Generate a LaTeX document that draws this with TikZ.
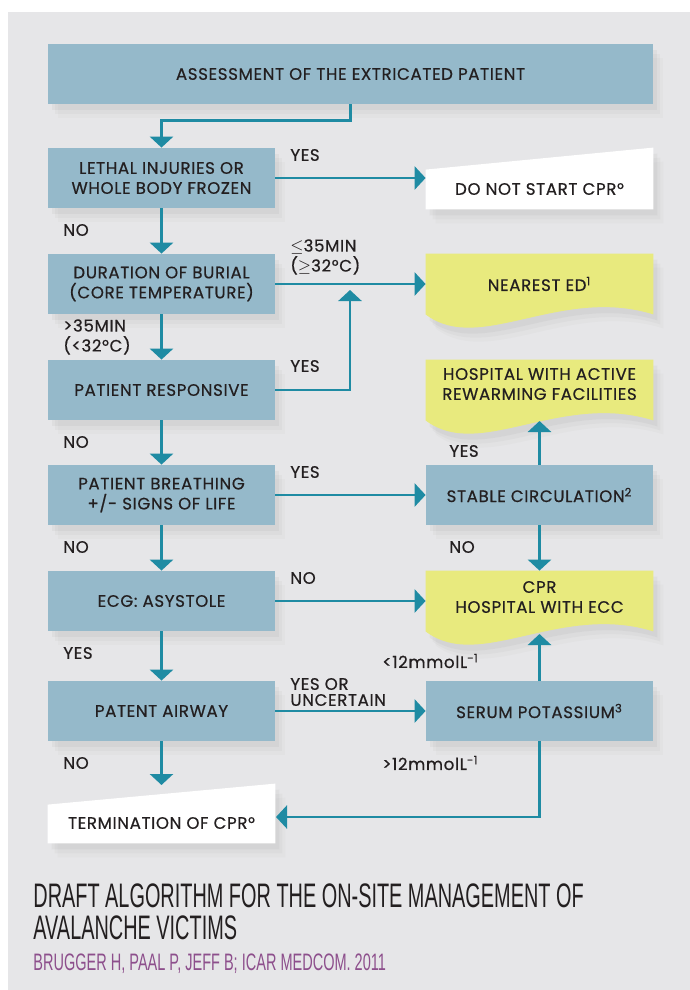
\documentclass[tikz,border=0pt]{standalone}
\usepackage{fontspec}
\setmainfont{Poppins}[FakeBold=0.6,LetterSpace=4]
\newfontfamily\titlefont[FakeStretch=0.585]{Liberation Sans}
\newfontfamily\citefont[FakeStretch=0.61]{Liberation Sans}
\usetikzlibrary{arrows.meta,calc,backgrounds,shadows}

\definecolor{panelgray}{RGB}{230,230,232}
\definecolor{boxblue}{RGB}{149,185,202}
\definecolor{docyellow}{RGB}{232,234,126}
\definecolor{flowteal}{RGB}{31,139,163}
\definecolor{inkdark}{RGB}{35,31,32}
\definecolor{citepurple}{RGB}{141,79,140}

\tikzset{
    soft shadow/.style={
        drop shadow={shadow xshift=5pt, shadow yshift=-7pt, opacity=0.04},
        drop shadow={shadow xshift=3.5pt, shadow yshift=-5pt, opacity=0.06},
        drop shadow={shadow xshift=2pt, shadow yshift=-3pt, opacity=0.08}},
    boxtext/.style={minimum width=113.5pt, minimum height=30pt, inner sep=0pt, align=center, text=inkdark, font=\fontsize{8.3}{10}\selectfont},
    stepbox/.style={boxtext, fill=boxblue, soft shadow},
    flow/.style={draw=flowteal, line width=1.4pt, -{Triangle[width=11.5pt,length=5.5pt]}},
    lab/.style={anchor=west, inner sep=0pt, align=left, text=inkdark, font=\fontsize{8.3}{10}\selectfont},
}

% wavy "document" box: node name, shift of the wave, colour
\newcommand\docshape[3]{%
    \path[fill=#3, soft shadow] (#1.north west) -- (#1.north east) -- ($(#1.south east)+(0,#2)$)
        .. controls ($(#1.south west)+(134,#2-29)$) and ($(#1.south west)+(54,#2+41)$) .. ($(#1.south west)+(0,#2)$) -- cycle;}

\begin{document}
    \begin{tikzpicture}[x=0.5pt,y=-0.5pt]
        \useasboundingbox (0,0) rectangle (690,990);
        % 背景
        \begin{scope}[on background layer]
            \fill[panelgray] (8,12) rectangle (690,990);
        \end{scope}

        % 左列
        \node[stepbox, minimum width=302.5pt] (assess) at (350.5,74) {ASSESSMENT OF THE EXTRICATED PATIENT};
        \node[stepbox] (lethal) at (161.5,178) {LETHAL INJURIES OR\\WHOLE BODY FROZEN};
        \node[stepbox] (burial) at (161.5,284) {DURATION OF BURIAL\\(CORE TEMPERATURE)};
        \node[stepbox] (respons) at (161.5,390) {PATIENT RESPONSIVE};
        \node[stepbox] (breath) at (161.5,495) {PATIENT BREATHING\\+/- SIGNS OF LIFE};
        \node[stepbox] (ecg) at (161.5,601) {ECG: ASYSTOLE};
        \node[stepbox] (airway) at (161.5,711) {PATENT AIRWAY};
        \node[boxtext, minimum height=20pt] (term) at (161.5,823) {TERMINATION OF CPR°};

        % 右列
        \node[boxtext, minimum height=20pt] (donot) at (539.5,189) {DO NOT START CPR°};
        \node[boxtext] (ed) at (539.5,284) {NEAREST ED\textsuperscript{1}};
        \node[boxtext, minimum height=24pt] (active) at (539.5,384) {HOSPITAL WITH ACTIVE\\REWARMING FACILITIES};
        \node[stepbox] (stable) at (539.5,495) {STABLE CIRCULATION\textsuperscript{2}};
        \node[boxtext, minimum height=26pt] (cpr) at (539.5,597) {CPR\\HOSPITAL WITH ECC};
        \node[stepbox] (serum) at (539.5,711) {SERUM POTASSIUM\textsuperscript{3}};

        % 白色和黄色的框
        \begin{scope}[on background layer]
            \path[fill=white, soft shadow] (donot.south west) -- (donot.south east) -- ($(donot.north east)+(0,-21)$) -- ($(donot.north west)+(0,1)$) -- cycle;
            \path[fill=white, soft shadow] (term.south west) -- (term.south east) -- ($(term.north east)+(0,-19)$) -- ($(term.north west)+(0,2)$) -- cycle;
            \docshape{ed}{0}{docyellow}
            \docshape{active}{12}{docyellow}
            \docshape{cpr}{8}{docyellow}
        \end{scope}

        % 箭头
        \coordinate (join) at (350,290);
        \coordinate (activebot) at (539.5,421);
        \coordinate (cprbot) at (539.5,634);
        \coordinate (termtop) at (161.5,785);
        \coordinate (termside) at (276,817);
        \draw[flow] (assess.south) -- ++(0,16) -| (lethal.north);
        \draw[flow] (lethal.east) -- (lethal.east -| donot.west);
        \draw[flow] (lethal.south) -- (burial.north);
        \draw[flow] (burial.east) -- (ed.west);
        \draw[flow] (burial.south) -- (respons.north);
        \draw[flow] (respons.east) -| (join);
        \draw[flow] (respons.south) -- (breath.north);
        \draw[flow] (breath.east) -- (stable.west);
        \draw[flow] (breath.south) -- (ecg.north);
        \draw[flow] (stable.north) -- (activebot);
        \draw[flow] (stable.south) -- (cpr.north);
        \draw[flow] (ecg.east) -- (ecg.east -| cpr.west);
        \draw[flow] (ecg.south) -- (airway.north);
        \draw[flow] (airway.east) -- (serum.west);
        \draw[flow] (serum.north) -- (cprbot);
        \draw[flow] (airway.south) -- (termtop);
        \draw[flow] (serum.south) |- (termside);

        % 标签
        \node[lab] (l1) at (290,155) {YES};
        \node[lab] (l2) at (63,230) {NO};
        \node[lab] (l3) at (290,257) {\ensuremath{\leq}35MIN\\(\ensuremath{\geq}32°C)};
        \node[lab] (l4) at (63,337) {>35MIN\\(<32°C)};
        \node[lab] (l5) at (290,366) {YES};
        \node[lab] (l6) at (63,442) {NO};
        \node[lab] (l7) at (290,472) {YES};
        \node[lab] (l8) at (449,451) {YES};
        \node[lab] (l9) at (63,547) {NO};
        \node[lab] (l10) at (449,547) {NO};
        \node[lab] (l11) at (290,578) {NO};
        \node[lab] (l12) at (63,653) {YES};
        \node[lab] (l13) at (382,661) {<12mmolL\textsuperscript{-1}};
        \node[lab] (l14) at (290,692) {YES OR\\[-2pt]UNCERTAIN};
        \node[lab] (l15) at (63,763) {NO};
        \node[lab] (l16) at (382,763) {>12mmolL\textsuperscript{-1}};

        % 标题
        \node[anchor=base west, inner sep=0pt, text=inkdark, font=\titlefont\fontsize{17}{20}\selectfont] (title1) at (33,907) {DRAFT ALGORITHM FOR THE ON-SITE MANAGEMENT OF};
        \node[anchor=base west, inner sep=0pt, text=inkdark, font=\titlefont\fontsize{17}{20}\selectfont] (title2) at (33,939) {AVALANCHE VICTIMS};
        \node[anchor=base west, inner sep=0pt, text=citepurple, font=\citefont\fontsize{11.9}{14}\selectfont] (cite) at (33,970) {BRUGGER H, PAAL P, JEFF B; ICAR MEDCOM. 2011};
    \end{tikzpicture}
\end{document}
